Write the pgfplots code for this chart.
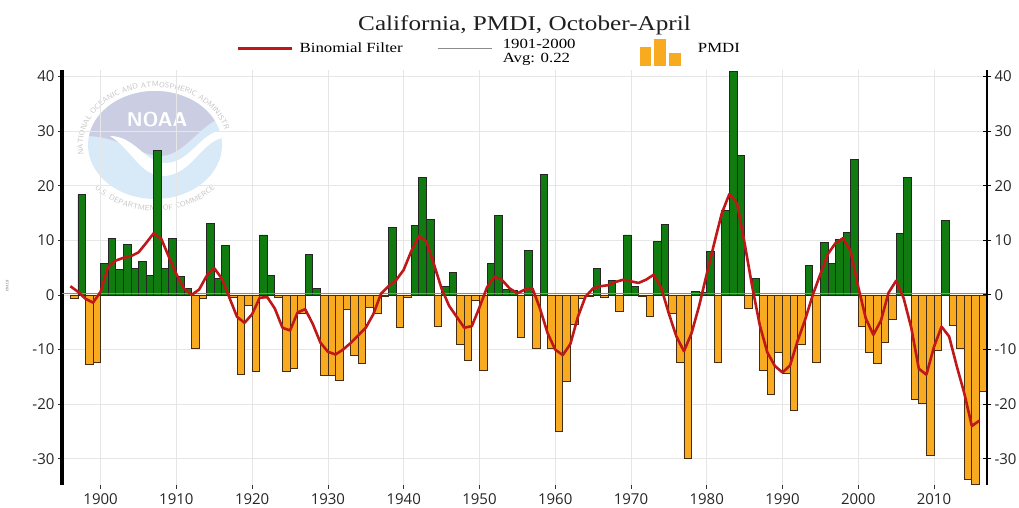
\documentclass[border=0pt]{standalone}
\usepackage{pgfplots}
\pgfplotsset{compat=1.18}
\usepackage{pgfplotstable}
\usepackage{fontspec}
\setmainfont{Liberation Serif}[FakeStretch=1.2]
\newfontfamily\tickfont{Open Sans}
\usetikzlibrary{decorations.text}
\definecolor{bargreen}{RGB}{16,124,16}
\definecolor{barorange}{RGB}{248,170,32}
\definecolor{orangeedge}{RGB}{70,45,15}
\definecolor{filtred}{RGB}{192,24,24}
\definecolor{avggray}{RGB}{140,140,140}
\definecolor{gridgray}{RGB}{230,230,230}
\definecolor{noaablue}{RGB}{216,233,247}
\definecolor{noaalav}{RGB}{203,206,226}

\pgfplotstableread{
year pos neg
1896 nan -0.6
1897 18.4 nan
1898 nan -12.7
1899 nan -12.3
1900 5.7 nan
1901 10.3 nan
1902 4.6 nan
1903 9.3 nan
1904 4.9 nan
1905 6.1 nan
1906 3.5 nan
1907 26.5 nan
1908 4.9 nan
1909 10.3 nan
1910 3.4 nan
1911 1.2 nan
1912 nan -9.8
1913 nan -0.6
1914 13.1 nan
1915 3.0 nan
1916 9.1 nan
1917 nan -0.4
1918 nan -14.6
1919 nan -1.9
1920 nan -14.0
1921 11.0 nan
1922 3.5 nan
1923 nan -0.4
1924 nan -14.0
1925 nan -13.4
1926 nan -3.4
1927 7.4 nan
1928 1.2 nan
1929 nan -14.8
1930 nan -14.8
1931 nan -15.7
1932 nan -2.6
1933 nan -11.0
1934 nan -12.5
1935 nan -2.2
1936 nan -3.4
1937 nan -0.3
1938 12.4 nan
1939 nan -5.9
1940 nan -0.4
1941 12.7 nan
1942 21.5 nan
1943 13.9 nan
1944 nan -5.7
1945 1.5 nan
1946 4.2 nan
1947 nan -9.1
1948 nan -12.0
1949 nan -1.0
1950 nan -13.8
1951 5.7 nan
1952 14.6 nan
1953 1.0 nan
1954 0.8 nan
1955 nan -7.7
1956 8.2 nan
1957 nan -9.8
1958 22.1 nan
1959 nan -9.8
1960 nan -24.9
1961 nan -15.9
1962 nan -5.3
1963 nan -0.7
1964 nan -0.2
1965 4.8 nan
1966 nan -0.4
1967 2.7 nan
1968 nan -3.0
1969 11.0 nan
1970 1.6 nan
1971 nan -0.2
1972 nan -3.9
1973 9.8 nan
1974 12.9 nan
1975 nan -3.3
1976 nan -12.3
1977 nan -30.0
1978 0.7 nan
1979 0.4 nan
1980 8.0 nan
1981 nan -12.3
1982 15.5 nan
1983 41.0 nan
1984 25.5 nan
1985 nan -2.4
1986 3.0 nan
1987 nan -13.8
1988 nan -18.2
1989 nan -10.6
1990 nan -14.4
1991 nan -21.1
1992 nan -9.1
1993 5.4 nan
1994 nan -12.3
1995 9.6 nan
1996 5.7 nan
1997 10.2 nan
1998 11.5 nan
1999 24.8 nan
2000 nan -5.7
2001 nan -10.6
2002 nan -12.5
2003 nan -8.7
2004 nan -4.4
2005 11.3 nan
2006 21.6 nan
2007 nan -19.1
2008 nan -19.9
2009 nan -29.4
2010 nan -10.1
2011 13.7 nan
2012 nan -5.5
2013 nan -9.8
2014 nan -33.7
2015 nan -34.7
2016 nan -17.7
}\pmdi

\pgfplotstableread{
year f
1896 1.6
1897 0.6
1898 -0.7
1899 -1.4
1900 0.6
1901 5.2
1902 6.3
1903 6.8
1904 7.1
1905 7.8
1906 9.5
1907 11.3
1908 10.3
1909 7.0
1910 3.8
1911 1.2
1912 0.0
1913 1.0
1914 3.5
1915 4.9
1916 3.0
1917 -0.5
1918 -4.0
1919 -5.1
1920 -3.5
1921 -0.5
1922 -0.4
1923 -2.5
1924 -6.0
1925 -6.5
1926 -3.2
1927 -2.6
1928 -5.3
1929 -8.7
1930 -10.4
1931 -10.9
1932 -10.0
1933 -8.8
1934 -7.4
1935 -6.0
1936 -3.5
1937 0.2
1938 1.6
1939 2.7
1940 4.6
1941 8.0
1942 10.8
1943 9.8
1944 5.6
1945 1.2
1946 -2.0
1947 -4.0
1948 -6.0
1949 -5.7
1950 -2.3
1951 1.4
1952 3.4
1953 2.7
1954 1.2
1955 0.3
1956 1.0
1957 1.2
1958 -2.5
1959 -7.0
1960 -10.0
1961 -11.0
1962 -9.0
1963 -4.0
1964 -0.3
1965 1.2
1966 1.6
1967 1.8
1968 2.4
1969 2.8
1970 2.5
1971 2.2
1972 2.8
1973 3.7
1974 1.3
1975 -3.4
1976 -7.6
1977 -10.3
1978 -7.0
1979 -2.0
1980 3.8
1981 9.5
1982 15.0
1983 18.5
1984 16.8
1985 9.5
1986 1.6
1987 -5.5
1988 -10.5
1989 -13.0
1990 -14.2
1991 -12.9
1992 -8.4
1993 -4.5
1994 0.0
1995 3.8
1996 7.5
1997 9.5
1998 10.4
1999 8.0
2000 1.5
2001 -4.3
2002 -7.3
2003 -4.7
2004 0.4
2005 2.6
2006 -0.6
2007 -6.0
2008 -13.5
2009 -14.6
2010 -9.5
2011 -5.8
2012 -7.6
2013 -13.0
2014 -18.0
2015 -24.0
2016 -23.0
}\filt

\begin{document}
\begin{tikzpicture}[x=1pt,y=1pt]
\useasboundingbox (0pt,0pt) rectangle (1019pt,508pt);
% faint NOAA watermark
\fill[noaablue] (155pt,363pt) ellipse [x radius=67pt, y radius=54pt];
\begin{scope}
  \clip (155pt,363pt) ellipse [x radius=67pt, y radius=54pt];
  \fill[noaalav] (85pt,372pt) .. controls (120pt,372pt) and (140pt,352pt) .. (160pt,352pt) .. controls (185pt,352pt) and (200pt,385pt) .. (225pt,392pt) -- (225pt,420pt) -- (85pt,420pt) -- cycle;
  \fill[white] (110pt,372pt) .. controls (135pt,372pt) and (145pt,345pt) .. (165pt,345pt) .. controls (190pt,345pt) and (200pt,375pt) .. (222pt,378pt) -- (222pt,370pt) .. controls (200pt,365pt) and (190pt,330pt) .. (160pt,332pt) .. controls (140pt,334pt) and (130pt,360pt) .. (110pt,372pt) -- cycle;
\end{scope}
\node[white, font=\sffamily\bfseries\fontsize{20}{20}\selectfont] at (157pt,388pt) {NOAA};
\path[decorate, decoration={text along path, text align=center, text color=gray!45,
  text={|\sffamily\fontsize{7.5}{7.5}\selectfont|NATIONAL OCEANIC AND ATMOSPHERIC ADMINISTRATION}}]
  (155pt,363pt) ++(168:72pt and 58pt) arc [start angle=168, end angle=12, x radius=72pt, y radius=58pt];
\path[decorate, decoration={text along path, text align=center, text color=gray!45,
  text={|\sffamily\fontsize{7.5}{7.5}\selectfont|U.S. DEPARTMENT OF COMMERCE}}]
  (155pt,363pt) ++(200:80pt and 66pt) arc [start angle=200, end angle=340, x radius=80pt, y radius=66pt];

\begin{axis}[
  at={(62pt,23pt)}, anchor=south west,
  scale only axis, width=925pt, height=415pt,
  xmin=1894.9, xmax=2017.0, ymin=-34.8, ymax=41.2,
  axis y line*=left, axis x line*=bottom,
  x axis line style={draw=none},
  y axis line style={line width=4pt, black},
  xtick={1900,1910,...,2010},
  ytick={-30,-20,...,40},
  grid=major, major grid style={gridgray, line width=0.7pt},
  tick style={black!80, line width=0.8pt},
  xtick align=outside, ytick align=outside,
  major tick length=4pt,
  ticklabel style={font=\tickfont\fontsize{15}{15}\selectfont, text=black!85},
  /pgf/number format/assume math mode=true,
  /pgf/number format/1000 sep={},
  xticklabel style={yshift=-1pt},
  ylabel={PMDI},
  ylabel style={at={(axis description cs:-0.054,0.48)}, rotate=0, font=\fontsize{4}{4}\selectfont, text=gray},
  title={California, PMDI, October-April},
  title style={at={(axis description cs:0.5,1)}, anchor=center, yshift=39pt, font=\fontsize{21}{25}\selectfont, text=black!88},
  legend style={at={(axis description cs:0.4622,1)}, anchor=center, yshift=18pt, draw=none, fill=none,
    font=\fontsize{14}{13.5}\selectfont, nodes={inner xsep=2pt, inner ysep=1pt},
    /tikz/every even column/.append style={column sep=32pt}},
  legend columns=3,
  legend cell align=left,
  clip=true,
]
\addlegendimage{legend image code/.code={\draw[filtred, line width=2.6pt] (0pt,0pt) -- (54pt,0pt); \path (59pt,0pt);}}
\addlegendentry{Binomial Filter}
\addlegendimage{legend image code/.code={\draw[avggray, line width=1.6pt] (0pt,0pt) -- (54pt,0pt); \path (63pt,0pt);}}
\addlegendentry{\begin{tabular}{@{}l@{}}1901-2000\\Avg: 0.22\end{tabular}}
\addlegendimage{legend image code/.code={
   \path (-30pt,0pt);
   \fill[barorange] (0pt,-17pt) rectangle (10pt,1.6pt);
   \fill[barorange] (14pt,-17pt) rectangle (25pt,9.6pt);
   \fill[barorange] (29pt,-17pt) rectangle (40pt,-5pt);
   \path (56pt,0pt);}}
\addlegendentry{PMDI}

\addplot[ybar, bar width=1, bar shift=0pt, fill=bargreen, draw=black!85, line width=0.8pt, forget plot]
  table[x expr=\thisrow{year}+0.5, y=pos] {\pmdi};
\addplot[ybar, bar width=1, bar shift=0pt, fill=barorange, draw=orangeedge, line width=0.8pt, forget plot]
  table[x expr=\thisrow{year}+0.5, y=neg] {\pmdi};
\addplot[avggray, line width=1.2pt, forget plot] coordinates {(1894.9,0.22) (2017.0,0.22)};
\addplot[filtred, line width=2.6pt, line join=round, forget plot] table[x=year, y=f] {\filt};
\end{axis}

\begin{axis}[
  at={(62pt,23pt)}, anchor=south west,
  scale only axis, width=925pt, height=415pt,
  xmin=1894.9, xmax=2017.0, ymin=-34.8, ymax=41.2,
  axis y line*=right, axis x line=none,
  y axis line style={line width=1.2pt, black},
  ytick={-30,-20,...,40},
  ytick align=center, major tick length=8pt,
  tick style={black, line width=1pt},
  ticklabel style={font=\tickfont\fontsize{15}{15}\selectfont, text=black!85},
  /pgf/number format/assume math mode=true,
]
\addplot[draw=none] coordinates {(1900,0)};
\end{axis}
\end{tikzpicture}
\end{document}
